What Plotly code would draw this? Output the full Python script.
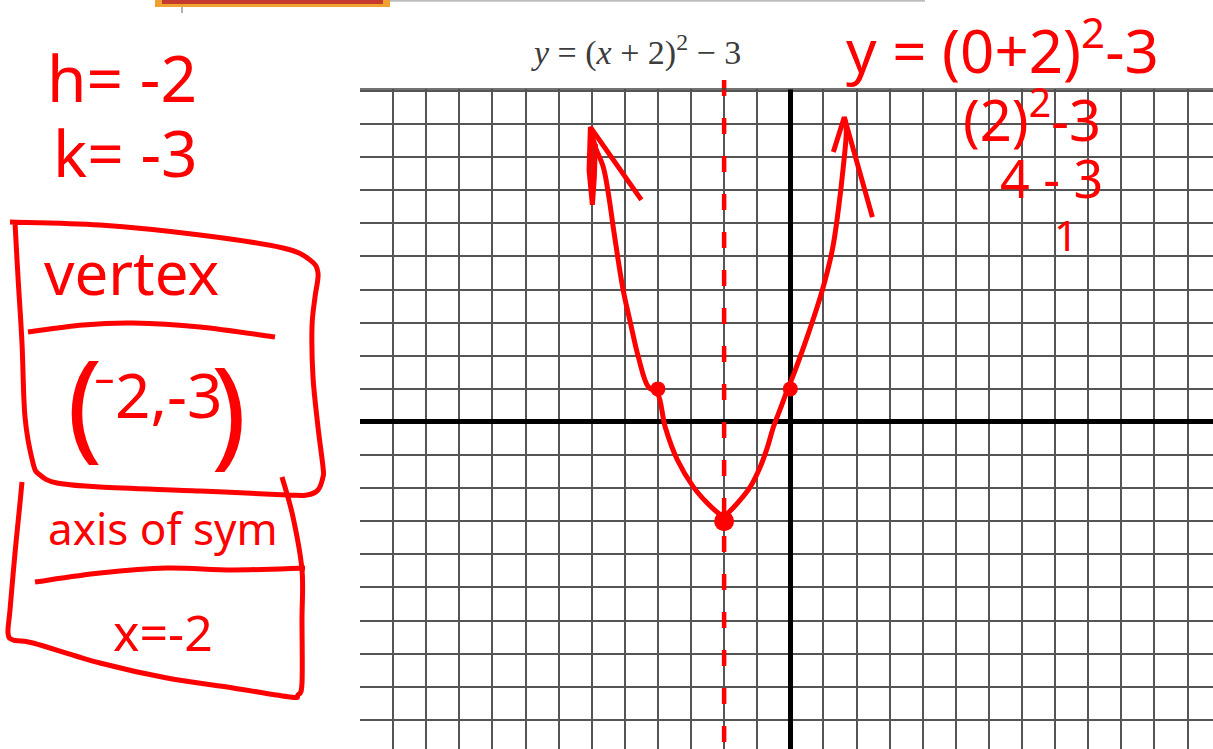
import plotly.graph_objects as go

# ---- graph of y = (x + 2)^2 - 3 as sketched on the grid ----
vertex_h = -2
vertex_k = -3

# one continuous stroke: down the left branch, through the vertex, up the right branch
curve_x = [-6.04, -5.89, -5.65, -5.50, -5.35, -5.20, -5.05, -4.83, -4.59, -4.29, -4.02,
           -3.78, -3.41, -2.93, -2.51, -2.18, -2.02,
           -1.85, -1.55, -1.21, -0.91, -0.69, -0.51, -0.30, -0.09, 0.00, 0.51, 0.97, 1.27, 1.45, 1.60, 1.69, 1.63]
curve_y = [8.91, 8.31, 7.70, 6.92, 5.89, 4.89, 3.99, 2.99, 1.96, 1.06, 0.88,
           -0.15, -1.15, -1.96, -2.45, -2.75, -2.86,
           -2.72, -2.40, -1.96, -1.36, -0.76, -0.15, 0.40, 0.97, 1.18, 2.57, 3.99, 5.20, 6.40, 7.70, 8.82, 9.21]

# arrow heads at the ends of both branches
left_arrow_x = [-4.50, -6.04, -6.08, -5.98, -5.92, -5.89]
left_arrow_y = [6.71, 8.91, 7.60, 6.56, 7.40, 8.40]
right_arrow_x = [1.30, 1.63, 2.48]
right_arrow_y = [8.16, 9.21, 6.19]

# plotted points
point_x = [-4, 0]
point_y = [1, 1]

# visible window of the grid
x_range = [-13.0, 12.77]
y_range = [-9.88, 10.06]

RED = "#ff0000"
HAND = "Noto Sans"

W, H = 1213, 749
L, T = 360, 89


def fx(px):
    return (px - L) / (W - L)


def fy(py):
    return (H - py) / (H - T)


def smooth_path(pts):
    """Catmull-Rom through screen points, written as an SVG path in paper units."""
    p = [(fx(x), fy(y)) for x, y in pts]
    d = f"M {p[0][0]:.5f},{p[0][1]:.5f}"
    for i in range(len(p) - 1):
        p0 = p[i - 1] if i > 0 else p[i]
        p1, p2 = p[i], p[i + 1]
        p3 = p[i + 2] if i + 2 < len(p) else p[i + 1]
        c1 = (p1[0] + (p2[0] - p0[0]) / 6, p1[1] + (p2[1] - p0[1]) / 6)
        c2 = (p2[0] - (p3[0] - p1[0]) / 6, p2[1] - (p3[1] - p1[1]) / 6)
        d += f" C {c1[0]:.5f},{c1[1]:.5f} {c2[0]:.5f},{c2[1]:.5f} {p2[0]:.5f},{p2[1]:.5f}"
    return d


fig = go.Figure()

fig.add_trace(go.Scatter(x=curve_x, y=curve_y, mode="lines",
                         line=dict(color=RED, width=5, shape="spline", smoothing=1.0), hoverinfo="skip"))
fig.add_trace(go.Scatter(x=left_arrow_x, y=left_arrow_y, mode="lines",
                         line=dict(color=RED, width=5), hoverinfo="skip"))
fig.add_trace(go.Scatter(x=right_arrow_x, y=right_arrow_y, mode="lines",
                         line=dict(color=RED, width=5), hoverinfo="skip"))
fig.add_trace(go.Scatter(x=point_x, y=point_y, mode="markers",
                         marker=dict(color=RED, size=15), hoverinfo="skip"))
fig.add_trace(go.Scatter(x=[vertex_h], y=[vertex_k], mode="markers",
                         marker=dict(color=RED, size=20), hoverinfo="skip"))

shapes = []

# dashed axis of symmetry x = h
ax_paper = (vertex_h - x_range[0]) / (x_range[1] - x_range[0])
shapes.append(dict(type="line", xref="paper", yref="paper", x0=ax_paper, x1=ax_paper,
                   y0=fy(742), y1=fy(79), line=dict(color=RED, width=4.5, dash="16px,22px")))

# top border of the grid
shapes.append(dict(type="line", xref="paper", yref="paper", x0=0, x1=1, y0=1, y1=1,
                   line=dict(color="#444444", width=1.5)))

# page chrome along the top edge
shapes.append(dict(type="line", xref="paper", yref="paper", x0=fx(390), x1=fx(925), y0=fy(0.8), y1=fy(0.8),
                   line=dict(color="#bdbdbd", width=2)))
shapes.append(dict(type="rect", xref="paper", yref="paper", x0=fx(155), x1=fx(390), y0=fy(7), y1=fy(-2),
                   line=dict(width=0), fillcolor="#f0a22e"))
shapes.append(dict(type="rect", xref="paper", yref="paper", x0=fx(162), x1=fx(383), y0=fy(4), y1=fy(-2),
                   line=dict(width=0), fillcolor="#c43a2c"))
shapes.append(dict(type="line", xref="paper", yref="paper", x0=fx(182), x1=fx(182), y0=fy(13), y1=fy(7),
                   line=dict(color="#9a9a9a", width=1.5)))

# hand-drawn boxes and dividers
strokes = [
    # vertex box
    [(10, 222), (100, 225), (200, 235), (283, 248), (310, 260), (318, 273), (315, 297), (312, 327),
     (313, 377), (318, 427), (323, 467), (323, 477), (318, 490), (307, 495), (287, 495), (200, 491),
     (100, 487), (57, 483), (40, 475), (33, 463), (25, 417), (22, 343), (18, 277), (15, 223)],
    [(28, 332), (83, 325), (133, 323), (200, 327), (275, 337)],
    # axis of symmetry box
    [(22, 482), (20, 503), (15, 553), (10, 610), (8, 633), (13, 640), (33, 643), (100, 663), (167, 678),
     (233, 688), (290, 697), (298, 695), (302, 683), (302, 620), (302, 570), (293, 517), (282, 477)],
    [(35, 582), (100, 573), (167, 568), (233, 570), (305, 568)],
]
for s in strokes:
    shapes.append(dict(type="path", xref="paper", yref="paper", path=smooth_path(s),
                       line=dict(color=RED, width=5)))

annotations = []


def note(text, cx, cy, size, color=RED, family=HAND):
    annotations.append(dict(text=text, xref="paper", yref="paper", x=fx(cx), y=fy(cy),
                            xanchor="center", yanchor="middle", showarrow=False,
                            font=dict(family=family, size=size, color=color)))


# printed equation above the grid
note("<i>y</i> = (<i>x</i> + 2)<sup>2</sup> − 3", 636, 50, 34, color="#3c3c3c", family="Liberation Serif")

# handwritten working
note("h= -2", 122, 77, 64)
note("k= -3", 125, 152, 64)
note("vertex", 131, 272, 60)
note("(", 84, 400, 118)
note(")", 228, 408, 118)
note("⁻2,-3", 158, 394, 62)
note("axis of sym", 163, 528, 44)
note("x=-2", 163, 632, 50)
note("y = (0+2)<sup>2</sup>-3", 1002, 47, 60)
note("(2)<sup>2</sup>-3", 1032, 116, 56)
note("4 - 3", 1051, 177, 52)
note("1", 1066, 234, 42)

fig.update_layout(
    width=W, height=H,
    margin=dict(l=L, r=0, t=T, b=0, pad=0),
    paper_bgcolor="white", plot_bgcolor="white",
    showlegend=False,
    shapes=shapes,
    annotations=annotations,
    xaxis=dict(range=x_range, dtick=1, tick0=0, showgrid=True, gridcolor="#555555", gridwidth=1.5,
               zeroline=True, zerolinecolor="black", zerolinewidth=5,
               showticklabels=False, ticks="", showline=False, fixedrange=True),
    yaxis=dict(range=y_range, dtick=1, tick0=0, showgrid=True, gridcolor="#555555", gridwidth=1.5,
               zeroline=True, zerolinecolor="black", zerolinewidth=5,
               showticklabels=False, ticks="", showline=False, fixedrange=True),
)

fig.write_html("out.html")
